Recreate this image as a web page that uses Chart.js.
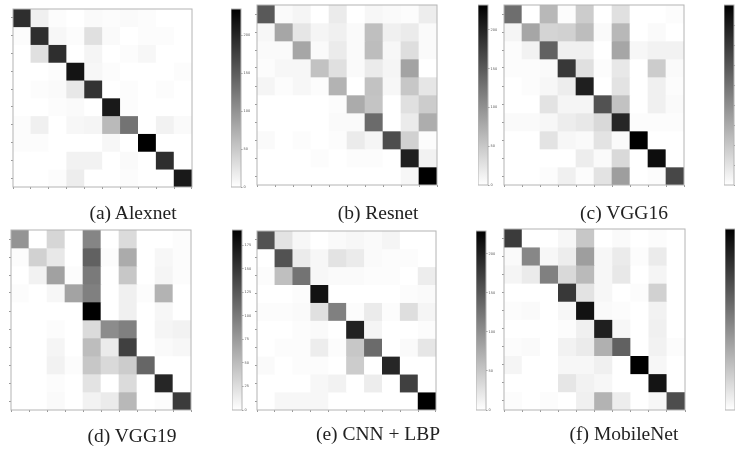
<!DOCTYPE html>
<html lang="en">
<head>
<meta charset="UTF-8">
<title>Confusion matrices</title>
<script src="https://cdn.jsdelivr.net/npm/chart.js"></script>
<style>
    html, body { margin: 0; padding: 0; background: #fff; overflow: hidden; }
    body { position: relative; width: 735px; height: 451px; }
    canvas { position: absolute; filter: blur(0.7px); }
    .caption {
        position: absolute;
        font-family: "Liberation Serif", serif;
        font-size: 19.5px;
        color: #222;
        white-space: nowrap;
        transform: translateX(-50%);
        filter: blur(0.4px);
    }
</style>
</head>
<body>
<script>
    // cell shades, in % of the colorbar top
    const alexnet = [
        [82, 6, 1, 0, 2, 1, 2, 1, 0, 0],
        [1, 82, 3, 1, 12, 2, 0, 1, 1, 0],
        [0, 12, 82, 0, 4, 0, 1, 3, 0, 0],
        [0, 0, 1, 92, 3, 1, 0, 0, 0, 1],
        [0, 1, 2, 9, 80, 0, 1, 0, 1, 0],
        [0, 0, 1, 2, 0, 90, 1, 0, 0, 0],
        [1, 6, 0, 3, 4, 27, 55, 0, 5, 2],
        [1, 1, 0, 0, 0, 3, 0, 100, 0, 0],
        [0, 0, 0, 5, 5, 0, 2, 0, 82, 0],
        [0, 0, 1, 7, 0, 0, 1, 0, 0, 90]
    ];
    const resnet = [
        [65, 2, 4, 0, 8, 0, 3, 2, 1, 7],
        [3, 35, 10, 4, 6, 2, 25, 6, 8, 2],
        [2, 2, 35, 2, 8, 2, 26, 3, 13, 2],
        [1, 3, 3, 24, 12, 2, 8, 4, 36, 0],
        [4, 1, 3, 1, 30, 0, 24, 3, 22, 10],
        [0, 0, 0, 0, 1, 33, 23, 0, 12, 20],
        [0, 0, 0, 0, 2, 2, 58, 0, 8, 32],
        [2, 0, 1, 0, 1, 8, 4, 70, 18, 1],
        [0, 0, 0, 1, 0, 1, 1, 0, 88, 5],
        [0, 0, 0, 0, 0, 0, 0, 0, 3, 100]
    ];
    const vgg16 = [
        [57, 0, 28, 1, 20, 0, 12, 0, 0, 1],
        [4, 35, 17, 18, 26, 2, 28, 0, 2, 0],
        [1, 5, 62, 6, 6, 0, 35, 3, 5, 5],
        [1, 1, 2, 78, 12, 1, 9, 0, 20, 2],
        [0, 1, 3, 7, 88, 0, 11, 0, 6, 1],
        [0, 0, 11, 4, 4, 68, 24, 0, 6, 2],
        [2, 2, 3, 7, 9, 15, 85, 1, 1, 1],
        [0, 0, 11, 3, 2, 11, 2, 100, 0, 0],
        [0, 0, 0, 0, 7, 2, 15, 0, 95, 0],
        [0, 0, 1, 6, 1, 11, 38, 0, 1, 72]
    ];
    const vgg19 = [
        [42, 0, 16, 0, 48, 0, 14, 0, 0, 1],
        [1, 18, 9, 0, 62, 1, 33, 0, 3, 1],
        [0, 5, 37, 1, 52, 0, 22, 0, 4, 1],
        [1, 0, 3, 36, 50, 0, 6, 1, 30, 0],
        [0, 0, 0, 0, 100, 0, 6, 0, 3, 0],
        [0, 0, 1, 0, 14, 45, 50, 0, 4, 5],
        [0, 0, 4, 0, 26, 8, 75, 0, 2, 3],
        [0, 0, 5, 1, 22, 15, 20, 60, 0, 0],
        [0, 0, 1, 0, 11, 0, 14, 0, 85, 0],
        [0, 0, 2, 0, 5, 8, 28, 0, 1, 77]
    ];
    const cnnLbp = [
        [68, 11, 3, 0, 2, 3, 2, 4, 0, 0],
        [0, 68, 8, 3, 11, 8, 2, 1, 1, 0],
        [1, 25, 55, 3, 2, 2, 1, 1, 0, 7],
        [0, 0, 1, 93, 0, 0, 0, 0, 1, 2],
        [1, 1, 2, 12, 50, 1, 8, 1, 13, 4],
        [0, 0, 1, 2, 0, 87, 4, 0, 0, 1],
        [0, 1, 1, 7, 1, 22, 58, 0, 2, 10],
        [2, 0, 1, 1, 0, 20, 0, 85, 0, 0],
        [0, 0, 0, 3, 5, 0, 7, 0, 75, 0],
        [0, 3, 3, 3, 0, 0, 0, 0, 0, 100]
    ];
    const mobileNet = [
        [77, 0, 0, 3, 22, 0, 2, 0, 1, 0],
        [2, 47, 3, 7, 38, 3, 8, 1, 8, 0],
        [4, 8, 50, 15, 27, 3, 9, 0, 4, 0],
        [0, 0, 0, 78, 11, 3, 0, 1, 18, 0],
        [1, 2, 0, 3, 93, 2, 1, 0, 5, 0],
        [0, 0, 0, 1, 6, 88, 3, 0, 6, 0],
        [1, 2, 0, 5, 8, 31, 62, 0, 5, 1],
        [4, 0, 0, 3, 3, 6, 0, 100, 3, 0],
        [0, 0, 0, 10, 5, 3, 0, 0, 92, 0],
        [1, 0, 1, 0, 6, 30, 7, 0, 3, 70]
    ];

    const classes = [0, 1, 2, 3, 4, 5, 6, 7, 8, 9];
    const captions = ["(a) Alexnet", "(b) Resnet", "(c) VGG16", "(d) VGG19", "(e) CNN + LBP", "(f) MobileNet"];
    const matrices = [alexnet, resnet, vgg16, vgg19, cnnLbp, mobileNet];
    const colorbarMax = [235, 232, 226, 191, 229, 197];
    const colorbarStep = [50, 50, 25, 25, 50, 25];

    // panel geometry: [left, top, right, bottom] in page pixels
    const plotBoxes = [
        [12.5, 8.5, 191.5, 187], [257, 4.5, 437.5, 185], [503.5, 4.5, 683.5, 185],
        [11, 229.5, 191.5, 410], [257, 230.5, 436.5, 410], [503.5, 229, 684.5, 410]
    ];
    const barLefts = [231, 477.5, 723.5, 231.5, 476, 724.5];
    const captionPos = [[133, 202], [378, 202], [624, 202], [132, 424.5], [378, 423], [624, 423]];

    const PAD_L = 5, PAD_B = 4, PAD_T = 1, PAD_R = 1;

    function shade(v) {
        const g = Math.round(255 * (1 - v / 100));
        return `rgb(${g},${g},${g})`;
    }

    const frame = {
        id: "frame",
        afterDraw(chart) {
            const a = chart.chartArea, c = chart.ctx;
            c.save();
            c.strokeStyle = "#b4b4b4";
            c.lineWidth = 1;
            c.strokeRect(a.left, a.top, a.right - a.left, a.bottom - a.top);
            c.restore();
        }
    };

    function addCanvas(left, top, width, height) {
        const canvas = document.createElement("canvas");
        canvas.width = width;
        canvas.height = height;
        canvas.style.left = left + "px";
        canvas.style.top = top + "px";
        document.body.appendChild(canvas);
        return canvas;
    }

    function drawHeatmap(i) {
        const [l, t, r, b] = plotBoxes[i];
        const canvas = addCanvas(l - PAD_L, t - PAD_T, r - l + PAD_L + PAD_R, b - t + PAD_T + PAD_B);
        new Chart(canvas.getContext("2d"), {
            type: "bar",
            data: {
                labels: classes,
                datasets: matrices[i].map(row => ({
                    data: row.map(() => 1),
                    backgroundColor: row.map(shade),
                    borderWidth: 0,
                    barPercentage: 1,
                    categoryPercentage: 1
                }))
            },
            plugins: [frame],
            options: {
                responsive: false,
                animation: false,
                devicePixelRatio: 1,
                layout: { padding: { top: PAD_T, right: PAD_R } },
                plugins: { legend: { display: false }, tooltip: { enabled: false } },
                scales: {
                    x: {
                        stacked: true,
                        grid: { drawOnChartArea: false, tickLength: 2, tickColor: "#999" },
                        border: { display: false },
                        ticks: { display: false },
                        afterFit: s => { s.height = PAD_B; }
                    },
                    y: {
                        stacked: true,
                        reverse: true,
                        min: 0,
                        max: classes.length,
                        grid: { drawOnChartArea: false, tickLength: 2, tickColor: "#999" },
                        border: { display: false },
                        ticks: { display: false },
                        afterBuildTicks: s => { s.ticks = classes.map(c => ({ value: c + 0.5 })); },
                        afterFit: s => { s.width = PAD_L; }
                    }
                }
            }
        });
    }

    function drawColorbar(i) {
        const [, t, , b] = plotBoxes[i];
        const canvas = addCanvas(barLefts[i], t - PAD_T, 24, b - t + PAD_T + PAD_B);
        const max = colorbarMax[i];
        const step = colorbarStep[i];
        new Chart(canvas.getContext("2d"), {
            type: "bar",
            data: {
                labels: [""],
                datasets: [{
                    data: [max],
                    borderWidth: 0,
                    barPercentage: 1,
                    categoryPercentage: 1,
                    backgroundColor(ctx) {
                        const a = ctx.chart.chartArea;
                        if (!a) return "#888";
                        const g = ctx.chart.ctx.createLinearGradient(0, a.bottom, 0, a.top);
                        g.addColorStop(0, "#fff");
                        g.addColorStop(1, "#000");
                        return g;
                    }
                }]
            },
            plugins: [frame],
            options: {
                responsive: false,
                animation: false,
                devicePixelRatio: 1,
                layout: { padding: { top: PAD_T, bottom: PAD_B, left: 0, right: 0 } },
                plugins: { legend: { display: false }, tooltip: { enabled: false } },
                scales: {
                    x: { display: false, grid: { display: false } },
                    y: {
                        position: "right",
                        min: 0,
                        max: max,
                        grid: { drawOnChartArea: false, tickLength: 1.5, tickColor: "#999" },
                        border: { display: false },
                        ticks: {
                            stepSize: step,
                            padding: 1,
                            color: "#555",
                            font: { family: "DejaVu Sans", size: 3.5 }
                        },
                        // drop the extra tick Chart.js adds at the axis max
                        afterBuildTicks: s => { s.ticks = s.ticks.filter(k => k.value % step === 0); },
                        // no label margin, so the bar lines up with the heatmap
                        afterFit: s => { s.width = 14; s.paddingTop = 0; s.paddingBottom = 0; }
                    }
                }
            }
        });
    }

    captions.forEach((text, i) => {
        drawHeatmap(i);
        drawColorbar(i);
        const cap = document.createElement("div");
        cap.className = "caption";
        cap.textContent = text;
        cap.style.left = captionPos[i][0] + "px";
        cap.style.top = captionPos[i][1] + "px";
        document.body.appendChild(cap);
    });
</script>
</body>
</html>
